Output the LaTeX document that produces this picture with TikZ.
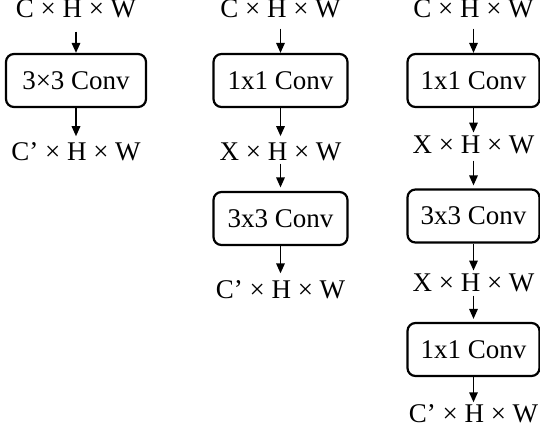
\documentclass[tikz,border=0pt]{standalone}
\usepackage{fontspec}
\setmainfont{Liberation Serif}
\usetikzlibrary{arrows.meta}
\begin{document}
\begin{tikzpicture}[x=1pt,y=-1pt,
  lbl/.style={inner sep=0pt,anchor=base,font=\fontsize{27}{30}\selectfont},
  convbox/.style={draw,line width=2.2pt,rounded corners=8pt,minimum height=53pt,inner sep=0pt,font=\fontsize{27}{30}\selectfont},
  arr/.style={line width=1.6pt,-{Triangle[length=10pt,width=8.5pt]}}]
\useasboundingbox (0,0) rectangle (540,431);
% column 1
\node[lbl] (a0) at (76,17) {C × H × W};
\node[convbox,minimum width=140pt] (ab1) at (76,80.5) {3×3 Conv};
\node[lbl] (a1) at (76,160) {C’ × H × W};
\draw[arr,shorten <=14pt] (a0.south) -- (ab1.north);
\draw[arr,shorten >=5.6pt] (ab1.south) -- (a1.north);
% column 2
\node[lbl] (b0) at (280.5,17) {C × H × W};
\node[convbox,minimum width=134pt] (bb1) at (280.5,80.5) {1x1 Conv};
\node[lbl] (b1) at (280.5,160) {X × H × W};
\node[convbox,minimum width=134pt] (bb2) at (280.5,218.5) {3x3 Conv};
\node[lbl] (b2) at (280.5,298) {C’ × H × W};
\draw[arr,shorten <=11pt] (b0.south) -- (bb1.north);
\draw[arr,shorten >=6pt] (bb1.south) -- (b1.north);
\draw[arr,shorten <=3pt,shorten >=3.5pt] (b1.south) -- (bb2.north);
\draw[arr,shorten >=6.5pt] (bb2.south) -- (b2.north);
% column 3
\node[lbl] (c0) at (473.5,17) {C × H × W};
\node[convbox,minimum width=132pt] (cb1) at (473.5,80.5) {1x1 Conv};
\node[lbl] (c1) at (473.5,153) {X × H × W};
\node[convbox,minimum width=132pt] (cb2) at (473.5,216) {3x3 Conv};
\node[lbl] (c2) at (473.5,291) {X × H × W};
\node[convbox,minimum width=132pt] (cb3) at (473.5,349.5) {1x1 Conv};
\node[lbl] (c3) at (473.5,422) {C’ × H × W};
\draw[arr,shorten <=11pt] (c0.south) -- (cb1.north);
\draw[arr,shorten >=2.6pt] (cb1.south) -- (c1.north);
\draw[arr,shorten <=7pt,shorten >=3pt] (c1.south) -- (cb2.north);
\draw[arr,shorten >=2.6pt] (cb2.south) -- (c2.north);
\draw[arr,shorten <=4pt,shorten >=3pt] (c2.south) -- (cb3.north);
\draw[arr,shorten >=1.6pt] (cb3.south) -- (c3.north);
\end{tikzpicture}
\end{document}
